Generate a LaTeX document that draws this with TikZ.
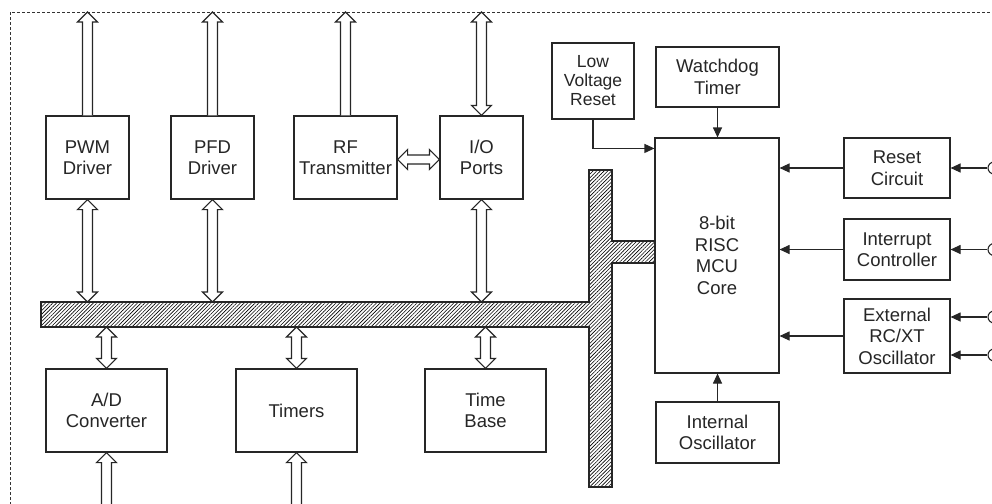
\documentclass[tikz,border=0pt]{standalone}
\usepackage{fontspec}
\setmainfont{Liberation Sans}
\usetikzlibrary{arrows.meta,calc,patterns.meta}

\tikzset{
  block/.style={draw=black!85, line width=1.1pt, fill=white, align=center, text=black!85,
    inner sep=2pt, font=\fontsize{18.5}{21.5}\selectfont},
  hollow/.style={draw=black!85, line width=1.1pt, fill=white, line join=miter},
  sarrow/.style={draw=black!85, line width=1.1pt, -{Triangle[length=10pt,width=9pt]}},
  busbar/.style={draw=black!85, line width=1.1pt, pattern={Lines[angle=45,distance=2.6pt,line width=.6pt]}},
  pincirc/.style={circle, draw=black!85, line width=1.1pt, fill=white, minimum size=12pt, inner sep=0pt},
  dashframe/.style={draw=black!80, line width=.8pt, dash pattern=on 3pt off 2pt}
}

% hollow block arrows: tail -> tip (upwards), and two-headed ones
\newcommand{\bigup}[2]{%
  \draw[hollow] let \p1=(#1), \p2=(#2) in
    (\x1-5pt,\y1) -- (\x1-5pt,\y2-10pt) -- (\x1-10pt,\y2-10pt) -- (\x1,\y2)
    -- (\x1+10pt,\y2-10pt) -- (\x1+5pt,\y2-10pt) -- (\x1+5pt,\y1);}
\newcommand{\bigupdown}[2]{%
  \draw[hollow] let \p1=(#1), \p2=(#2) in
    (\x1,\y1) -- (\x1+10pt,\y1-10pt) -- (\x1+5pt,\y1-10pt) -- (\x1+5pt,\y2+10pt)
    -- (\x1+10pt,\y2+10pt) -- (\x1,\y2) -- (\x1-10pt,\y2+10pt) -- (\x1-5pt,\y2+10pt)
    -- (\x1-5pt,\y1-10pt) -- (\x1-10pt,\y1-10pt) -- cycle;}
\newcommand{\bigleftright}[2]{%
  \draw[hollow] let \p1=(#1), \p2=(#2) in
    (\x1,\y1) -- (\x1+10pt,\y1+10pt) -- (\x1+10pt,\y1+4.5pt) -- (\x2-10pt,\y1+4.5pt)
    -- (\x2-10pt,\y1+10pt) -- (\x2,\y1) -- (\x2-10pt,\y1-10pt) -- (\x2-10pt,\y1-4.5pt)
    -- (\x1+10pt,\y1-4.5pt) -- (\x1+10pt,\y1-10pt) -- cycle;}

\begin{document}
\begin{tikzpicture}[x=1pt, y=-1pt]
    \useasboundingbox (0,0) rectangle (992,503);
    \clip (0,0) rectangle (992,503);

    \coordinate (ftop) at (0,12);
    \coordinate (fbot) at (0,510);
    \coordinate (bustop) at (0,302);
    \coordinate (busbot) at (0,327);

    \draw[dashframe] (10,510) -- (10,12) -- (1000,12);

    % bus
    \draw[busbar] (41,302) -- (589,302) -- (589,170) -- (612,170) -- (612,241) -- (655,241)
        -- (655,263) -- (612,263) -- (612,487) -- (589,487) -- (589,327) -- (41,327) -- cycle;

    % peripheral blocks
    \node[block, minimum width=83pt, minimum height=83pt] (pwm) at (87.5,157.5) {PWM\\Driver};
    \node[block, minimum width=83pt, minimum height=83pt] (pfd) at (212.5,157.5) {PFD\\Driver};
    \node[block, minimum width=103pt, minimum height=83pt] (rf) at (345.5,157.5) {RF\\Transmitter};
    \node[block, minimum width=83pt, minimum height=83pt] (io) at (481.5,157.5) {I/O\\Ports};
    \node[block, minimum width=121pt, minimum height=83pt] (adc) at (106.5,410.5) {A/D\\Converter};
    \node[block, minimum width=121pt, minimum height=83pt] (tmr) at (296.5,410.5) {Timers};
    \node[block, minimum width=121pt, minimum height=83pt] (tb) at (485.5,410.5) {Time\\Base};

    % core side
    \node[block, minimum width=82pt, minimum height=76pt, font=\fontsize{17.5}{19}\selectfont] (lvr) at (593,81) {Low\\Voltage\\Reset};
    \node[block, minimum width=123pt, minimum height=60pt] (wdt) at (717.5,77) {Watchdog\\Timer};
    \node[block, minimum width=124pt, minimum height=235pt] (mcu) at (717,255.5) {8-bit\\RISC\\MCU\\Core};
    \node[block, minimum width=123pt, minimum height=61pt] (iosc) at (717.5,432.5) {Internal\\Oscillator};
    \node[block, minimum width=106pt, minimum height=60pt] (rst) at (897,168) {Reset\\Circuit};
    \node[block, minimum width=106pt, minimum height=61pt] (irq) at (897,249.5) {Interrupt\\Controller};
    \node[block, minimum width=106pt, minimum height=74pt] (ext) at (897,336) {External\\RC/XT\\Oscillator};

    \node[pincirc] (prst) at (994,168) {};
    \node[pincirc] (pirq) at (994,249.5) {};
    \node[pincirc] (pext1) at (994,317) {};
    \node[pincirc] (pext2) at (994,355) {};

    \bigup{pwm.north}{pwm.north |- ftop}
    \bigup{pfd.north}{pfd.north |- ftop}
    \bigup{rf.north}{rf.north |- ftop}
    \bigupdown{io.north |- ftop}{io.north}
    \bigleftright{[yshift=-2pt]rf.east}{[yshift=-2pt]io.west}
    \bigupdown{pwm.south}{pwm.south |- bustop}
    \bigupdown{pfd.south}{pfd.south |- bustop}
    \bigupdown{io.south}{io.south |- bustop}
    \bigupdown{adc.north |- busbot}{adc.north}
    \bigupdown{tmr.north |- busbot}{tmr.north}
    \bigupdown{tb.north |- busbot}{tb.north}
    \bigup{adc.south |- fbot}{adc.south}
    \bigup{tmr.south |- fbot}{tmr.south}

    \draw[sarrow] (wdt.south) -- (wdt.south |- mcu.north);
    \draw[sarrow] (lvr.south) |- ([yshift=-11pt]mcu.north west);
    \draw[sarrow] (rst.west) -- (rst.west -| mcu.east);
    \draw[sarrow] (irq.west) -- (irq.west -| mcu.east);
    \draw[sarrow] (ext.west) -- (ext.west -| mcu.east);
    \draw[sarrow] (iosc.north) -- (iosc.north |- mcu.south);
    \draw[sarrow] (prst) -- (prst -| rst.east);
    \draw[sarrow] (pirq) -- (pirq -| irq.east);
    \draw[sarrow] (pext1) -- (pext1 -| ext.east);
    \draw[sarrow] (pext2) -- (pext2 -| ext.east);
\end{tikzpicture}
\end{document}
